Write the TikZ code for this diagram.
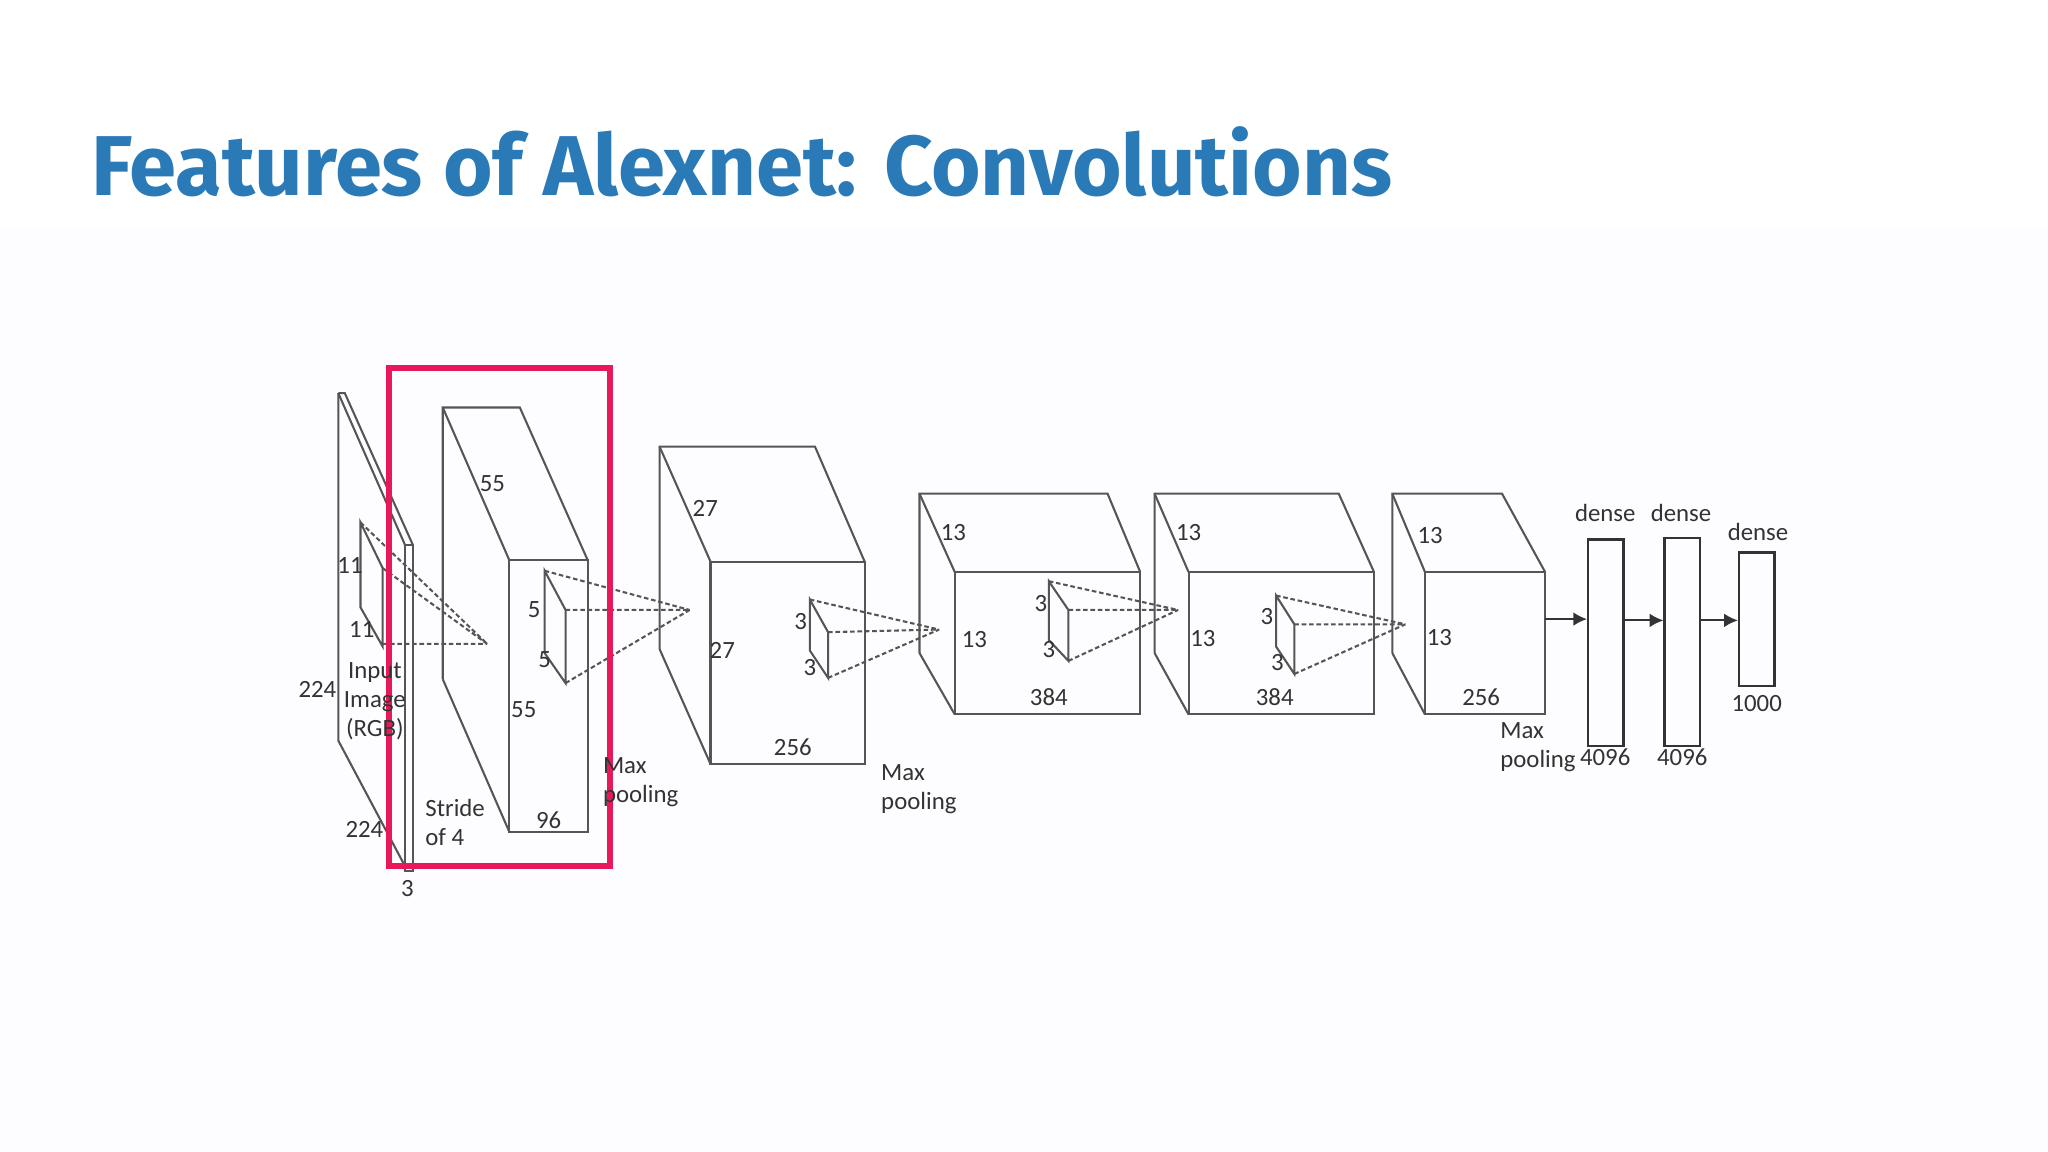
\documentclass[tikz,border=0pt]{standalone}
\usepackage{fontspec}
\setmainfont{Carlito}
\newfontfamily\titlefont{Fira Sans}
\usetikzlibrary{arrows.meta}
\definecolor{ttl}{HTML}{2A7AB8}
\definecolor{ln}{HTML}{555555}
\definecolor{hl}{HTML}{E8195A}
\definecolor{bg}{HTML}{FDFCFE}
\tikzset{
  ln/.style={draw=ln, line width=0.45pt},
  dl/.style={draw=ln, line width=0.45pt, dash pattern=on 1pt off 0.6pt},
  lab/.style={font=\fontsize{5.4}{6.3}\selectfont, text=black!80, inner sep=0pt},
  labl/.style={lab, anchor=west, align=left},
  dense/.style={draw=black!80, line width=0.5pt, minimum width=0.27cm, inner sep=0pt},
  arr/.style={draw=black!80, line width=0.45pt, -{Latex[length=3pt,width=3pt]}}
}
\begin{document}
\begin{tikzpicture}[x=0.01cm,y=-0.01cm]
\useasboundingbox (0,0) rectangle (1568,882);
\fill[white] (0,0) rectangle (1568,882);
\fill[bg] (0,175) rectangle (1568,882);
\node[anchor=base west, inner sep=0pt, text=ttl, font=\titlefont\bfseries\fontsize{18.5}{21}\selectfont] (title) at (69,150) {Features of Alexnet: Convolutions};
% input slab
\draw[ln] (259,301) -- (259,567) -- (310,663);
\draw[ln] (259,301) -- (264,301) -- (316,417);
\draw[ln] (259,301) -- (310,417);
\draw[ln] (310,417) rectangle (316,667);
% kernel 11
\draw[ln] (276,400) -- (276,465) -- (293,495) -- (293,435) -- cycle;
\draw[dl] (276,400) -- (373,493) (293,435) -- (373,493) (293,493) -- (373,493);
% conv1
\draw[ln] (339,520) -- (339,312) -- (398,312) -- (450,429);
\draw[ln] (339,312) -- (390,429);
\draw[ln] (339,520) -- (390,637);
\draw[ln] (390,429) rectangle (450,637);
\draw[ln] (417,437) -- (417,500) -- (433,523) -- (433,467) -- cycle;
\draw[dl] (417,437) -- (528,467) (433,467) -- (528,467) (433,523) -- (528,467);
% conv2
\draw[ln] (505,497) -- (505,342) -- (624,342) -- (662,430);
\draw[ln] (505,342) -- (544,430);
\draw[ln] (505,497) -- (544,585);
\draw[ln] (544,430) rectangle (662,585);
\draw[ln] (620,459) -- (620,498) -- (634,519) -- (634,484) -- cycle;
\draw[dl] (620,459) -- (719,482) (634,484) -- (719,482) (634,519) -- (719,482);
% conv3
\draw[ln] (704,500) -- (704,378) -- (848,378) -- (873,438);
\draw[ln] (704,378) -- (731,438);
\draw[ln] (704,500) -- (731,547);
\draw[ln] (731,438) rectangle (873,547);
\draw[ln] (803,445) -- (803,490) -- (818,506) -- (818,467) -- cycle;
\draw[dl] (803,445) -- (902,467) (818,467) -- (902,467) (818,506) -- (902,467);
% conv4
\draw[ln] (884,500) -- (884,378) -- (1025,378) -- (1052,438);
\draw[ln] (884,378) -- (910,438);
\draw[ln] (884,500) -- (910,547);
\draw[ln] (910,438) rectangle (1052,547);
\draw[ln] (977,456) -- (977,495) -- (991,516) -- (991,478) -- cycle;
\draw[dl] (977,456) -- (1076,478) (991,478) -- (1076,478) (991,516) -- (1076,478);
% conv5
\draw[ln] (1066,500) -- (1066,378) -- (1150,378) -- (1183,438);
\draw[ln] (1066,378) -- (1091,438);
\draw[ln] (1066,500) -- (1091,547);
\draw[ln] (1091,438) rectangle (1183,547);
\coordinate (c5) at (1183,474);
% dense
\node[dense, minimum height=1.58cm] (d1) at (1229.5,492) {};
\node[dense, minimum height=1.59cm] (d2) at (1288,491.5) {};
\node[dense, minimum height=1.02cm] (d3) at (1345,474) {};
\draw[arr] (c5) -- (c5 -| d1.west);
\draw[arr] (d1.east |- 0,475) -- (d2.west |- 0,475);
\draw[arr] (d2.east |- 0,475) -- (d3.west |- 0,475);
% highlight
\draw[hl, line width=1.3pt] (298,282) rectangle (467,663);
% labels
\node[lab] at (268,433) {11};
\node[lab] at (277,482) {11};
\node[lab] at (243,528) {224};
\node[lab] at (279,635) {224};
\node[lab] at (312,680) {3};
\node[lab, align=center] at (287,537) {Input\\Image\\(RGB)};
\node[labl] at (325,630) {Stride\\of 4};
\node[lab] at (377,370) {55};
\node[lab] at (409,467) {5};
\node[lab] at (417,505) {5};
\node[lab] at (401,543) {55};
\node[lab] at (420,628) {96};
\node[labl] at (461,599) {Max\\pooling};
\node[lab] at (540,389) {27};
\node[lab] at (553,498) {27};
\node[lab] at (607,572) {256};
\node[lab] at (613,476) {3};
\node[lab] at (620,511) {3};
\node[labl] at (674,604) {Max\\pooling};
\node[lab] at (730,408) {13};
\node[lab] at (746,490) {13};
\node[lab] at (803,534) {384};
\node[lab] at (797,462) {3};
\node[lab] at (803,497) {3};
\node[lab] at (910,408) {13};
\node[lab] at (921,489) {13};
\node[lab] at (976,534) {384};
\node[lab] at (970,472) {3};
\node[lab] at (978,507) {3};
\node[lab] at (1095,410) {13};
\node[lab] at (1102,488) {13};
\node[lab] at (1134,534) {256};
\node[labl] at (1148,572) {Max\\pooling};
\node[lab] at (1229,393) {dense};
\node[lab] at (1287,393) {dense};
\node[lab] at (1346,407) {dense};
\node[lab] at (1229,580) {4096};
\node[lab] at (1288,580) {4096};
\node[lab] at (1345,539) {1000};
\end{tikzpicture}
\end{document}
